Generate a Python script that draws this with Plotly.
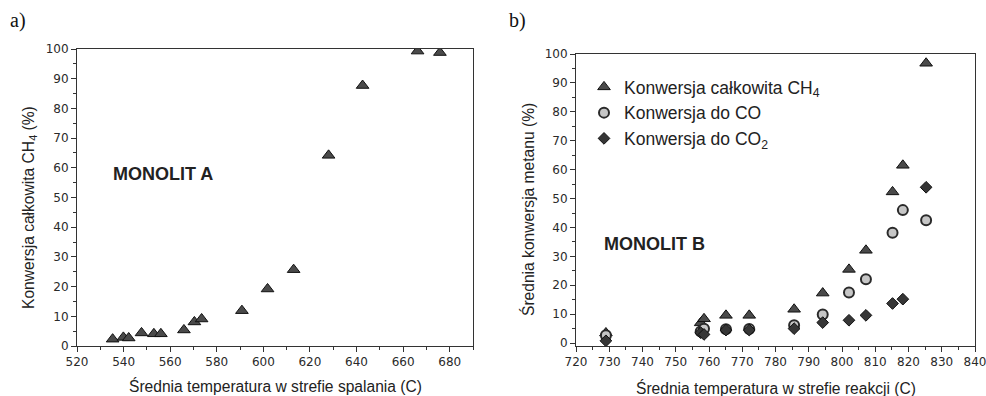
import plotly.graph_objects as go

# ---- Panel a: MONOLIT A ----
temp_a = [535.3, 539.9, 542.2, 547.7, 553.0, 556.0, 565.9, 570.4, 573.5, 590.8,
          601.8, 613.0, 628.0, 642.6, 666.2, 675.8]
conv_a = [2.3, 2.9, 2.7, 4.4, 4.1, 4.1, 5.4, 8.1, 9.1, 11.9,
          19.2, 25.7, 64.2, 87.7, 99.3, 98.8]

# ---- Panel b: MONOLIT B ----
temp_b = [729.0, 757.5, 758.5, 765.1, 772.1, 785.6, 794.2, 802.1, 807.2, 815.2, 818.3, 825.3]
conv_total_b = [3.5, 7.0, 8.4, 9.6, 9.6, 11.7, 17.3, 25.5, 32.1, 52.3, 61.5, 96.8]
conv_co_b = [2.7, 4.0, 5.0, 4.8, 4.9, 6.2, 9.9, 17.5, 22.1, 38.2, 46.0, 42.5]
conv_co2_b = [0.8, 3.6, 3.0, 4.5, 4.5, 5.0, 7.1, 7.9, 9.6, 13.7, 15.2, 53.9]

xticks_a = [520, 540, 560, 580, 600, 620, 640, 660, 680]
xticks_b = [720, 730, 740, 750, 760, 770, 780, 790, 800, 810, 820, 830, 840]
yticks = [0, 10, 20, 30, 40, 50, 60, 70, 80, 90, 100]

W, H = 986, 396
def px(x):
    return x / W
def py(y):
    return (H - y) / H

TRI = dict(symbol="triangle-up", size=11, color="#4a4a4a", line=dict(color="#111111", width=1))
CIR = dict(symbol="circle", size=10, color="#c6c6c6", line=dict(color="#2a2a2a", width=2))
DIA = dict(symbol="diamond", size=9, color="#363636", line=dict(color="#111111", width=1))

fig = go.Figure()
fig.add_trace(go.Scatter(x=temp_a, y=conv_a, mode="markers", marker=TRI,
                         xaxis="x", yaxis="y", showlegend=False))
fig.add_trace(go.Scatter(x=temp_b, y=conv_total_b, mode="markers", marker=TRI,
                         xaxis="x2", yaxis="y2", name="Konwersja całkowita CH<sub>4</sub>",
                         legendgroup="g1"))
fig.add_trace(go.Scatter(x=temp_b, y=conv_co_b, mode="markers", marker=CIR,
                         xaxis="x2", yaxis="y2", name="Konwersja do CO", legendgroup="g2"))
fig.add_trace(go.Scatter(x=temp_b, y=conv_co2_b, mode="markers", marker=DIA,
                         xaxis="x2", yaxis="y2", name="Konwersja do CO<sub>2</sub>",
                         legendgroup="g3"))

tickfont = dict(family="DejaVu Sans", size=12, color="#2a2a2a")
axcol = "#333333"

def xax(domain, rng, ticks, mdt, anchor):
    return dict(domain=domain, range=rng, tickvals=ticks, ticks="outside", ticklen=5,
                tickcolor=axcol, tickwidth=1, showline=True, linecolor=axcol, linewidth=1,
                mirror=True, showgrid=False, zeroline=False, tickfont=tickfont,
                ticklabeloverflow="allow",
                minor=dict(dtick=mdt, tick0=rng[0], ticks="outside", ticklen=3, tickcolor=axcol),
                anchor=anchor, fixedrange=True, automargin=False)

def yax(domain, rng, anchor):
    return dict(domain=domain, range=rng, tickvals=yticks, ticks="outside", ticklen=5,
                tickcolor=axcol, tickwidth=1, showline=True, linecolor=axcol, linewidth=1,
                mirror=True, showgrid=False, zeroline=False, tickfont=tickfont,
                ticklabeloverflow="allow",
                minor=dict(dtick=5, tick0=0, ticks="outside", ticklen=3, tickcolor=axcol),
                anchor=anchor, fixedrange=True, automargin=False)

def topax(over, rng, dt, anchor):
    return dict(overlaying=over, side="top", range=rng, dtick=dt, tick0=rng[0], ticks="inside",
                ticklen=3, tickcolor="#777777", showticklabels=False, showline=False,
                showgrid=False, zeroline=False, anchor=anchor, fixedrange=True, automargin=False)

def rightax(over, rng, anchor):
    return dict(overlaying=over, side="right", range=rng, dtick=10, tick0=0, ticks="inside",
                ticklen=3, tickcolor="#777777", showticklabels=False, showline=False,
                showgrid=False, zeroline=False, anchor=anchor, fixedrange=True, automargin=False)

xa_dom = [px(77), px(473)]
ya_dom = [py(346), py(49)]
xb_dom = [px(576), px(975)]
yb_dom = [py(346), py(54)]
rng_xa = [520, 690]
rng_ya = [0, 100]
rng_xb = [720, 840]
rng_yb = [-1, 100]

fig.update_layout(
    template="none",
    width=W, height=H,
    margin=dict(l=0, r=0, t=0, b=0, pad=0, autoexpand=False),
    paper_bgcolor="white", plot_bgcolor="white",
    xaxis=xax(xa_dom, rng_xa, xticks_a, 10, "y"),
    yaxis=yax(ya_dom, rng_ya, "x"),
    xaxis2=xax(xb_dom, rng_xb, xticks_b, 5, "y2"),
    yaxis2=yax(yb_dom, rng_yb, "x2"),
    xaxis3=topax("x", rng_xa, 10, "y"),
    yaxis3=rightax("y", rng_ya, "x"),
    xaxis4=topax("x2", rng_xb, 10, "y2"),
    yaxis4=rightax("y2", rng_yb, "x2"),
    showlegend=True,
    legend=dict(x=px(584), y=py(69), xanchor="left", yanchor="top",
                font=dict(family="Liberation Sans", size=17.5, color="#222222"),
                bgcolor="rgba(0,0,0,0)", tracegroupgap=0, traceorder="normal", borderwidth=0),
    font=dict(family="Liberation Sans", color="#222222"),
)

titlefont = dict(family="Liberation Sans", size=15.6, color="#222222")
ann = [
    dict(text="a)", x=px(18), y=py(21), font=dict(family="Liberation Serif", size=20, color="#111111")),
    dict(text="b)", x=px(517), y=py(21), font=dict(family="Liberation Serif", size=20, color="#111111")),
    dict(text="Średnia temperatura w strefie spalania (C)", x=px(275), y=py(386), font=titlefont),
    dict(text="Średnia temperatura w strefie reakcji (C)", x=px(776), y=py(388), font=titlefont),
    dict(text="Konwersja całkowita CH<sub>4</sub> (%)", x=px(29), y=py(208), textangle=-90, font=titlefont),
    dict(text="Średnia konwersja metanu (%)", x=px(528), y=py(210), textangle=-90, font=titlefont),
    dict(text="<b>MONOLIT A</b>", x=px(163), y=py(174), font=dict(family="Liberation Sans", size=18, color="#222222")),
    dict(text="<b>MONOLIT B</b>", x=px(654), y=py(244), font=dict(family="Liberation Sans", size=18, color="#222222")),
]
for a in ann:
    a.update(xref="paper", yref="paper", showarrow=False, xanchor="center", yanchor="middle")
fig.update_layout(annotations=ann)

# remove the default page margin so the 986x396 figure fills the window exactly
fig.write_html("out.html",
               config={"displayModeBar": False},
               post_script="document.body.style.margin='0';document.body.style.overflow='hidden';")
